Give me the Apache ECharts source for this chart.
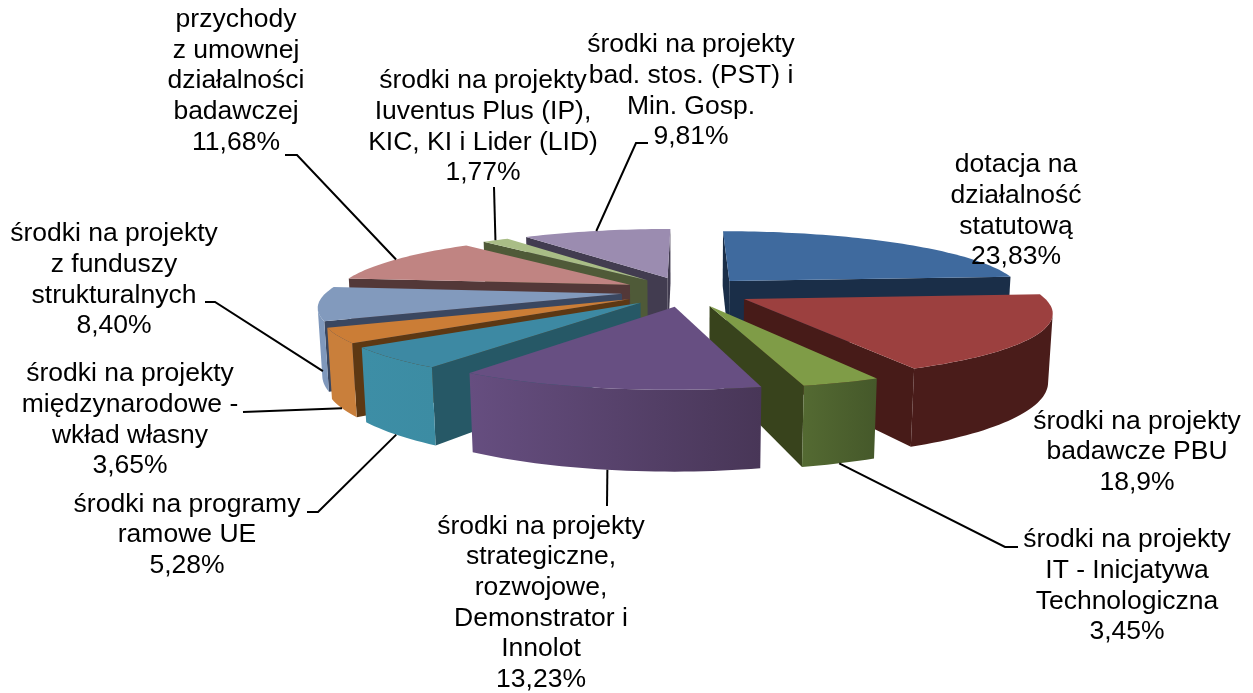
<!DOCTYPE html>
<html>
<head>
<meta charset="utf-8">
<title>Struktura przychodów</title>
<script src="https://cdn.jsdelivr.net/npm/echarts@6/dist/echarts.min.js"></script>
<style>
    html, body { margin: 0; padding: 0; background: #fff; }
    #chart { width: 1253px; height: 693px; }
</style>
</head>
<body>
<div id="chart"></div>
<script>
    // dane
    const sliceNames = [
        'dotacja na\ndziałalność\nstatutową',
        'środki na projekty\nbadawcze PBU',
        'środki na projekty\nIT - Inicjatywa\nTechnologiczna',
        'środki na projekty\nstrategiczne,\nrozwojowe,\nDemonstrator i\nInnolot',
        'środki na programy\nramowe UE',
        'środki na projekty\nmiędzynarodowe -\nwkład własny',
        'środki na projekty\nz funduszy\nstrukturalnych',
        'przychody\nz umownej\ndziałalności\nbadawczej',
        'środki na projekty\nIuventus Plus (IP),\nKIC, KI i Lider (LID)',
        'środki na projekty\nbad. stos. (PST) i\nMin. Gosp.'
    ];
    const sliceValues = [23.83, 18.9, 3.45, 13.23, 5.28, 3.65, 8.40, 11.68, 1.77, 9.81];
    const percentTexts = ['23,83%', '18,9%', '3,45%', '13,23%', '5,28%', '3,65%', '8,40%', '11,68%', '1,77%', '9,81%'];

    // kolory
    const topColors = ['#3f6a9e', '#9c403f', '#7f9c47', '#674f82', '#3d89a3', '#cb7d36', '#829abd', '#c08482', '#a9bd86', '#9b8cb0'];
    const sideColors = ['#1a2e48', '#471b18', '#38431c', '#483657', '#265866', '#5d3813', '#3a4760', '#533838', '#4f5a38', '#423c50'];
    const rimFrom = ['#1a2e48', '#4a1c1a', '#45582a', '#483657', '#3c8ca3', '#c97f3b', '#7f98bc', '#533838', '#4f5a38', '#423c50'];
    const rimTo = ['#1a2e48', '#4a1c1a', '#546a32', '#664e80', '#3d8ea6', '#c97f3b', '#7f98bc', '#533838', '#4f5a38', '#423c50'];

    // rzut perspektywiczny wycinków
    const CX = 686.5, CY = 291.5;
    const RX = 295, RY = 62, DEPTH = 66;
    const PERSP = 0.178, PERSP_Z = 0.012;
    const EXPLODE_X = 0.22, EXPLODE_Y = 0.24;

    // układ opisów: środek tekstu i punkty łamania linii
    const labelCenters = [
        [1016, 211], [1137, 452], [1127, 586], [541, 603], [187, 535],
        [130, 420], [114, 280], [236, 81], [483, 127], [691, 91]
    ];
    const leaderBends = [
        null, null,
        [[1018, 547], [1005, 547]],
        [[607, 506]],
        [[307, 512], [318, 512]],
        [[243, 412]],
        [[205, 302], [215, 302]],
        [[285, 155], [297, 155]],
        [[494, 187]],
        [[648, 143], [636, 143]]
    ];
    const leaderOnBottom = [0, 0, 1, 1, 1, 1, 1, 0, 0, 0];

    const toRad = Math.PI / 180;
    const total = sliceValues.reduce((a, b) => a + b, 0);
    const angles = [];
    let acc = 0;
    sliceValues.forEach(v => {
        angles.push([acc / total * 360, (acc + v) / total * 360]);
        acc += v;
    });

    function project(i, r, deg, z) {
        const mid = (angles[i][0] + angles[i][1]) / 2 * toRad;
        const a = deg * toRad;
        const x = r * Math.sin(a) + EXPLODE_X * Math.sin(mid);
        const y = -r * Math.cos(a) - EXPLODE_Y * Math.cos(mid);
        const s = 1 / (1 - PERSP * y + PERSP_Z * z);
        return [CX + RX * x * s, CY + (RY * y + DEPTH * z) * s];
    }

    function facesCamera(pts) {
        let sum = 0;
        pts.forEach((p, k) => {
            const q = pts[(k + 1) % pts.length];
            sum += p[0] * q[1] - q[0] * p[1];
        });
        return sum < 0;
    }

    function poly(points, color) {
        return {
            type: 'polygon',
            shape: { points: points },
            style: { fill: color }
        };
    }

    function renderSlice(params, api) {
        const i = api.value(0);
        const a0 = angles[i][0], a1 = angles[i][1];
        const children = [];

        const startWall = [project(i, 0, a0, 0), project(i, 1, a0, 0), project(i, 1, a0, 1), project(i, 0, a0, 1)];
        const endWall = [project(i, 1, a1, 0), project(i, 0, a1, 0), project(i, 0, a1, 1), project(i, 1, a1, 1)];
        if (facesCamera(startWall)) children.push(poly(startWall, sideColors[i]));
        if (facesCamera(endWall)) children.push(poly(endWall, sideColors[i]));

        // widoczna część ściany zewnętrznej jako jeden wielokąt z gradientem
        const steps = Math.max(4, Math.ceil((a1 - a0) / 1.5));
        const rim = [project(i, 0, a0, 0)];
        const wallTop = [], wallBottom = [];
        for (let k = 0; k <= steps; k++) {
            const d0 = a0 + (a1 - a0) * k / steps;
            rim.push(project(i, 1, d0, 0));
            if (k === steps) break;
            const d1 = a0 + (a1 - a0) * (k + 1) / steps;
            const quad = [project(i, 1, d0, 0), project(i, 1, d1, 0), project(i, 1, d1, 1), project(i, 1, d0, 1)];
            if (facesCamera(quad)) {
                if (!wallTop.length) {
                    wallTop.push(quad[0]);
                    wallBottom.push(quad[3]);
                }
                wallTop.push(quad[1]);
                wallBottom.push(quad[2]);
            }
        }
        if (wallTop.length) {
            const leftToRight = wallTop[0][0] < wallTop[wallTop.length - 1][0];
            const fill = new echarts.graphic.LinearGradient(0, 0, 1, 0, [
                { offset: 0, color: leftToRight ? rimFrom[i] : rimTo[i] },
                { offset: 1, color: leftToRight ? rimTo[i] : rimFrom[i] }
            ]);
            children.push(poly(wallTop.concat(wallBottom.reverse()), fill));
        }
        children.push(poly(rim, topColors[i]));

        return { type: 'group', children: children };
    }

    // od najdalszego do najbliższego wycinka
    const drawOrder = sliceValues.map((v, i) => i).sort((p, q) => {
        const mp = (angles[p][0] + angles[p][1]) / 2 * toRad;
        const mq = (angles[q][0] + angles[q][1]) / 2 * toRad;
        return Math.cos(mq) - Math.cos(mp);
    });

    const graphics = [];
    sliceNames.forEach((name, i) => {
        graphics.push({
            type: 'text',
            z: 100,
            silent: true,
            style: {
                x: labelCenters[i][0],
                y: labelCenters[i][1],
                text: name + '\n' + percentTexts[i],
                fill: '#000',
                font: '26.5px "Liberation Sans", Arial, sans-serif',
                lineHeight: 30.7,
                align: 'center',
                verticalAlign: 'middle'
            }
        });
        if (leaderBends[i]) {
            const mid = (angles[i][0] + angles[i][1]) / 2;
            graphics.push({
                type: 'polyline',
                z: 90,
                silent: true,
                shape: { points: leaderBends[i].concat([project(i, 1, mid, leaderOnBottom[i])]) },
                style: { stroke: '#000', lineWidth: 2, fill: null }
            });
        }
    });

    const chart = echarts.init(document.getElementById('chart'));
    chart.setOption({
        animation: false,
        backgroundColor: '#fff',
        graphic: graphics,
        series: [
            {
                type: 'custom',
                coordinateSystem: 'none',
                silent: true,
                renderItem: renderSlice,
                data: drawOrder.map(i => [i, sliceValues[i]])
            }
        ]
    });
</script>
</body>
</html>
